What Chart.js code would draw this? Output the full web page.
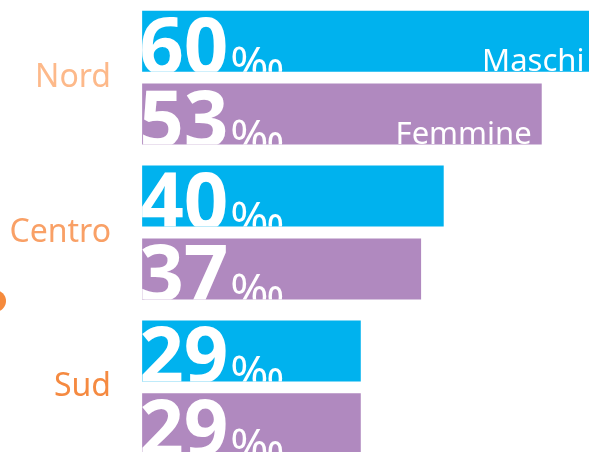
<!DOCTYPE html>
<html>
<head>
<meta charset="utf-8">
<script src="https://cdn.jsdelivr.net/npm/chart.js@4"></script>
<style>
  html, body { margin: 0; padding: 0; background: #ffffff; overflow: hidden; }
  #wrap { width: 589px; height: 452px; overflow: hidden; position: relative; }
  #chart { position: absolute; left: 0; top: -49px; }
</style>
</head>
<body>
<div id="wrap"><canvas id="chart" width="589" height="563"></canvas></div>
<script>
// Tasso per mille, maschi e femmine per ripartizione
const categories = ['Nord', 'Centro', 'Sud']
const maschi = [60, 40, 29]
const femmine = [53, 37, 29]
const seriesNames = ['Maschi', 'Femmine']
const seriesColors = ['#00b2ee', '#b089bf']
const labelColors = ['#fdb98a', '#f9a066', '#f58a41']

const FONT = '"Noto Sans", "Open Sans", sans-serif'

// bold value + small per mille sign, clipped to each bar
const barTextPlugin = {
    id: 'barText',
    afterDatasetsDraw(chart) {
        const ctx = chart.ctx
        chart.data.datasets.forEach((ds, di) => {
            const meta = chart.getDatasetMeta(di)
            meta.data.forEach((bar, i) => {
                const top = bar.y - bar.height / 2
                const bottom = bar.y + bar.height / 2
                ctx.save()
                ctx.beginPath()
                ctx.rect(bar.base, top, bar.x - bar.base, bar.height)
                ctx.clip()
                ctx.fillStyle = '#ffffff'
                ctx.textBaseline = 'alphabetic'
                ctx.textAlign = 'left'
                ctx.font = `bold 78px ${FONT}`
                const txt = String(ds.data[i])
                const x0 = bar.base - 3
                ctx.fillText(txt, x0, bottom + 2)
                const w = ctx.measureText(txt).width
                ctx.font = `46px ${FONT}`
                ctx.fillText('\u2030', x0 + w + 2, bottom + 8)
                if (i === 0) {
                    ctx.font = `31px ${FONT}`
                    ctx.textAlign = 'right'
                    ctx.fillText(ds.label, bar.x - 10, bottom - 1)
                }
                ctx.restore()
            })
        })
    }
}

// small orange mark at the left edge
const markPlugin = {
    id: 'mark',
    beforeDraw(chart) {
        const ctx = chart.ctx
        ctx.save()
        ctx.fillStyle = '#f58a3c'
        ctx.beginPath()
        ctx.ellipse(-5, 301 + 49, 11, 11, 0, 0, Math.PI * 2)
        ctx.fill()
        ctx.restore()
    }
}

new Chart(document.getElementById('chart').getContext('2d'), {
    type: 'bar',
    data: {
        labels: categories,
        datasets: [
            { label: seriesNames[0], data: maschi, backgroundColor: seriesColors[0] },
            { label: seriesNames[1], data: femmine, backgroundColor: seriesColors[1] }
        ]
    },
    options: {
        indexAxis: 'y',
        responsive: false,
        animation: false,
        categoryPercentage: 0.942,
        barPercentage: 0.836,
        layout: { padding: 0 },
        plugins: {
            legend: { display: false },
            tooltip: { enabled: false }
        },
        scales: {
            x: {
                display: false,
                min: -0.15,
                max: 59.27
            },
            y: {
                afterFit(scale) { scale.width = 141 },
                grid: { display: false, drawTicks: false },
                border: { display: false },
                ticks: {
                    padding: 30,
                    color: (c) => labelColors[c.index],
                    font: { family: FONT, size: 32 }
                }
            }
        }
    },
    plugins: [markPlugin, barTextPlugin]
})
</script>
</body>
</html>
